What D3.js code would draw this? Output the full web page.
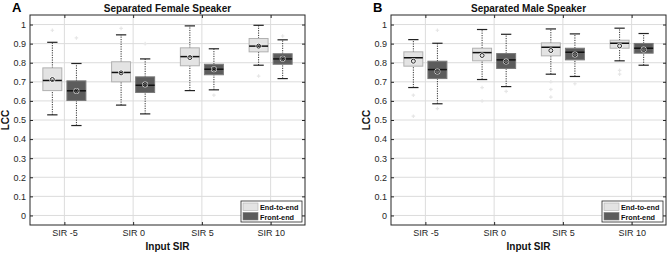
<!DOCTYPE html>
<html>
<head>
<meta charset="utf-8">
<script src="https://cdn.jsdelivr.net/npm/d3@7"></script>
<style>
  body { margin: 0; background: #fff; }
  text { font-family: "Liberation Sans", Arial, sans-serif; }
</style>
</head>
<body>
<svg id="chart" width="669" height="254"></svg>
<script>
// categories and y ticks
const categories = ["SIR -5", "SIR 0", "SIR 5", "SIR 10"];
const yTicks = [0, 0.1, 0.2, 0.3, 0.4, 0.5, 0.6, 0.7, 0.8, 0.9, 1];
const seriesNames = ["End-to-end", "Front-end"];

// box stats per category: [lowWhisker, q1, median, q3, highWhisker, mean]
const femaleE2E = [
  [0.527, 0.654, 0.707, 0.773, 0.907, 0.712],
  [0.578, 0.700, 0.749, 0.805, 0.946, 0.747],
  [0.654, 0.784, 0.832, 0.878, 0.993, 0.827],
  [0.787, 0.857, 0.887, 0.927, 0.996, 0.887]
];
const femaleFE = [
  [0.471, 0.602, 0.653, 0.705, 0.796, 0.652],
  [0.532, 0.644, 0.682, 0.726, 0.820, 0.686],
  [0.658, 0.737, 0.766, 0.792, 0.873, 0.766],
  [0.717, 0.792, 0.820, 0.847, 0.920, 0.821]
];
const maleE2E = [
  [0.670, 0.782, 0.826, 0.857, 0.921, 0.808],
  [0.712, 0.810, 0.853, 0.876, 0.974, 0.838],
  [0.740, 0.836, 0.881, 0.904, 0.977, 0.864],
  [0.810, 0.876, 0.902, 0.918, 0.981, 0.888]
];
const maleFE = [
  [0.585, 0.717, 0.764, 0.808, 0.902, 0.754],
  [0.675, 0.770, 0.815, 0.848, 0.949, 0.806],
  [0.728, 0.815, 0.855, 0.876, 0.951, 0.843],
  [0.787, 0.850, 0.876, 0.901, 0.953, 0.869]
];

// faint outliers: [categoryIndex, seriesIndex, value]
const femaleOutliers = [
  [0, 0, 0.97], [0, 1, 0.93], [1, 0, 0.98], [1, 1, 0.90], [2, 1, 0.63], [3, 0, 0.73], [3, 1, 0.94]
];
const maleOutliers = [
  [0, 0, 0.63], [0, 0, 0.52], [0, 1, 0.97], [0, 1, 0.56], [1, 0, 0.67], [1, 0, 0.60],
  [1, 1, 0.65], [2, 0, 0.70], [2, 0, 0.66], [2, 0, 0.62], [2, 1, 0.69], [3, 0, 0.76], [3, 0, 0.74]
];

const fills = ["#e3e3e3", "#5c5c5c"];
const edges = ["#b0b0b0", "#7a7a7a"];

const svg = d3.select("#chart");
const cross = d3.symbol().type(d3.symbolCross).size(7);

function drawPanel(opts) {
  const left = opts.left, right = opts.right, top = 15, bottom = 225;
  const x = d3.scaleLinear().domain([0.5, 4.5]).range([left, right]);
  const y = d3.scaleLinear().domain([-0.05, 1.05]).range([bottom, top]);
  const g = svg.append("g");

  g.append("rect").attr("x", left).attr("y", top)
    .attr("width", right - left).attr("height", bottom - top).attr("fill", "#fff");

  // grid
  g.selectAll(".hg").data(yTicks).enter().append("line")
    .attr("x1", left).attr("x2", right)
    .attr("y1", d => y(d)).attr("y2", d => y(d))
    .attr("stroke", "#dcdcdc").attr("stroke-width", 1);
  g.selectAll(".vg").data(categories).enter().append("line")
    .attr("x1", (d, i) => x(i + 1)).attr("x2", (d, i) => x(i + 1))
    .attr("y1", top).attr("y2", bottom)
    .attr("stroke", "#dcdcdc").attr("stroke-width", 1);

  // axes (MATLAB style, ticks inward)
  const yAxis = d3.axisLeft(y).tickValues(yTicks).tickSize(-3).tickPadding(4)
    .tickFormat(d => d3.format("")(+d.toFixed(1)));
  const ya = g.append("g").attr("transform", `translate(${left},0)`).call(yAxis);
  ya.select(".domain").remove();
  ya.selectAll("text").attr("font-size", 9).attr("fill", "#262626");
  ya.selectAll("line").attr("stroke", "#262626");
  const yr = g.append("g").attr("transform", `translate(${right},0)`)
    .call(d3.axisRight(y).tickValues(yTicks).tickSize(-3).tickFormat(""));
  yr.select(".domain").remove();
  yr.selectAll("line").attr("stroke", "#262626");

  const xAxis = d3.axisBottom(x).tickValues([1, 2, 3, 4]).tickSize(-3).tickPadding(5)
    .tickFormat(d => categories[d - 1]);
  const xa = g.append("g").attr("transform", `translate(0,${bottom})`).call(xAxis);
  xa.select(".domain").remove();
  xa.selectAll("text").attr("font-size", 9).attr("fill", "#262626");
  xa.selectAll("line").attr("stroke", "#262626");
  const xt = g.append("g").attr("transform", `translate(0,${top})`)
    .call(d3.axisTop(x).tickValues([1, 2, 3, 4]).tickSize(-3).tickFormat(""));
  xt.select(".domain").remove();
  xt.selectAll("line").attr("stroke", "#262626");

  const offset = 0.175, half = 0.138, cap = 0.075;

  // outliers (faint crosses)
  g.selectAll(".out").data(opts.outliers).enter().append("path")
    .attr("d", cross)
    .attr("transform", d => `translate(${x(d[0] + 1 + (d[1] === 0 ? -offset : offset))},${y(d[2])})`)
    .attr("fill", "#e6e6e6");

  // boxes
  [opts.e2e, opts.fe].forEach((series, s) => {
    series.forEach((st, i) => {
      const cx = x(i + 1 + (s === 0 ? -offset : offset));
      const hw = x(half) - x(0), cw = x(cap) - x(0);
      const bg = g.append("g");
      bg.append("line").attr("x1", cx).attr("x2", cx).attr("y1", y(st[3])).attr("y2", y(st[4]))
        .attr("stroke", "#333").attr("stroke-dasharray", "1.2,1.2");
      bg.append("line").attr("x1", cx).attr("x2", cx).attr("y1", y(st[0])).attr("y2", y(st[1]))
        .attr("stroke", "#333").attr("stroke-dasharray", "1.2,1.2");
      [st[0], st[4]].forEach(v => bg.append("line")
        .attr("x1", cx - cw).attr("x2", cx + cw).attr("y1", y(v)).attr("y2", y(v))
        .attr("stroke", "#222").attr("stroke-width", 1.2));
      bg.append("rect").attr("x", cx - hw).attr("width", 2 * hw)
        .attr("y", y(st[3])).attr("height", y(st[1]) - y(st[3]))
        .attr("fill", fills[s]).attr("stroke", edges[s]).attr("stroke-width", 1);
      bg.append("line").attr("x1", cx - hw).attr("x2", cx + hw)
        .attr("y1", y(st[2])).attr("y2", y(st[2]))
        .attr("stroke", "#111").attr("stroke-width", 1.5);
      bg.append("circle").attr("cx", cx).attr("cy", y(st[5])).attr("r", 2.2)
        .attr("fill", "none").attr("stroke", s === 0 ? "#fff" : "#ddd").attr("stroke-width", 1.6);
      bg.append("circle").attr("cx", cx).attr("cy", y(st[5])).attr("r", 2)
        .attr("fill", "none").attr("stroke", "#111").attr("stroke-width", 0.9);
    });
  });

  // frame
  g.append("rect").attr("x", left).attr("y", top)
    .attr("width", right - left).attr("height", bottom - top)
    .attr("fill", "none").attr("stroke", "#262626").attr("stroke-width", 1);

  // titles
  g.append("text").attr("x", (left + right) / 2).attr("y", 12)
    .attr("text-anchor", "middle").attr("font-size", 10).attr("font-weight", "bold")
    .attr("fill", "#111").text(opts.title);
  g.append("text").attr("x", opts.letterX).attr("y", 12)
    .attr("font-size", 13).attr("font-weight", "bold").attr("fill", "#000").text(opts.letter);
  g.append("text").attr("x", (left + right) / 2).attr("y", 250)
    .attr("text-anchor", "middle").attr("font-size", 10).attr("font-weight", "bold")
    .attr("fill", "#111").text("Input SIR");
  g.append("text").attr("transform", `translate(${left - 21},${(top + bottom) / 2}) rotate(-90)`)
    .attr("text-anchor", "middle").attr("font-size", 10).attr("font-weight", "bold")
    .attr("fill", "#111").text("LCC");

  // legend
  const lx = right - 64, ly = bottom - 24;
  const lg = g.append("g");
  lg.append("rect").attr("x", lx).attr("y", ly).attr("width", 61).attr("height", 21)
    .attr("fill", "#fff").attr("stroke", "#262626").attr("stroke-width", 0.8);
  seriesNames.forEach((n, i) => {
    lg.append("rect").attr("x", lx + 2).attr("y", ly + 2 + i * 9.5)
      .attr("width", 15).attr("height", 7.5)
      .attr("fill", fills[i]).attr("stroke", edges[i]).attr("stroke-width", 0.6);
    lg.append("text").attr("x", lx + 19).attr("y", ly + 9 + i * 9.5)
      .attr("font-size", 7.3).attr("font-weight", "bold").attr("fill", "#111").text(n);
  });
}

drawPanel({ left: 30, right: 305, e2e: femaleE2E, fe: femaleFE, outliers: femaleOutliers,
  title: "Separated Female Speaker", letter: "A", letterX: 12 });
drawPanel({ left: 391, right: 666, e2e: maleE2E, fe: maleFE, outliers: maleOutliers,
  title: "Separated Male Speaker", letter: "B", letterX: 373 });
</script>
</body>
</html>
